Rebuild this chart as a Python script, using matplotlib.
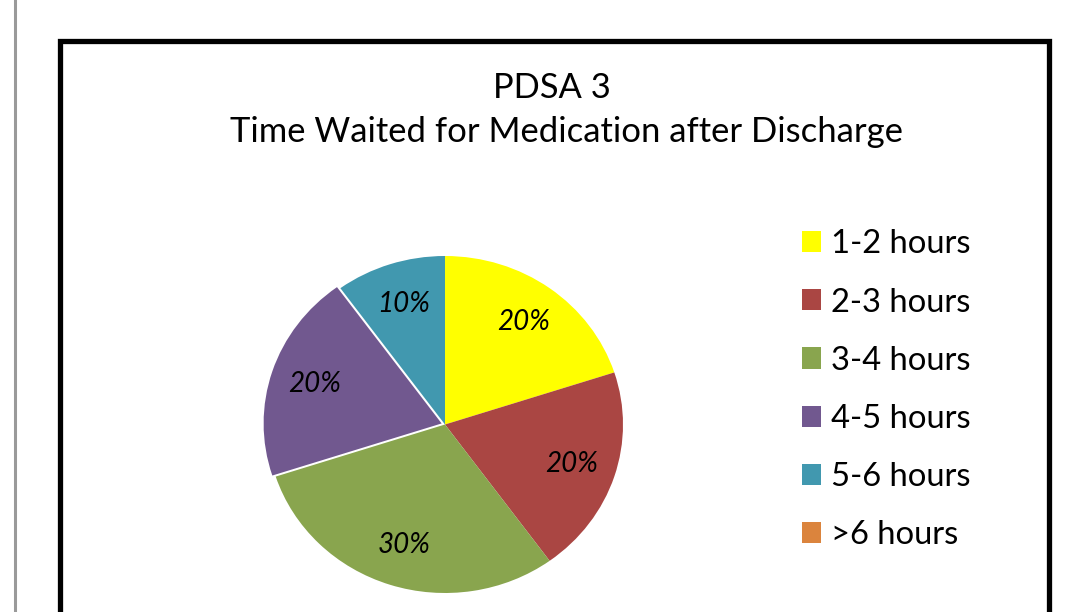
import matplotlib.pyplot as plt
from matplotlib.patches import Rectangle
from matplotlib.lines import Line2D

categories = ["1-2 hours", "2-3 hours", "3-4 hours", "4-5 hours", "5-6 hours", ">6 hours"]
shares = [20, 20, 30, 20, 10, 0]
colors = ["#FFFF00", "#AA4643", "#89A54E", "#71588F", "#4198AF", "#DB843D"]
title_lines = ["PDSA 3", "Time Waited for Medication after Discharge"]

W, H = 1082, 612
plt.rcParams["font.family"] = ["Lato", "DejaVu Sans"]

fig = plt.figure(figsize=(W / 100, H / 100), dpi=100)
fig.patch.set_facecolor("white")

# page margin line and chart border
fig.add_artist(Line2D([14.5 / W, 14.5 / W], [0, 1], color="#9a9a9a", linewidth=2.2,
                      transform=fig.transFigure))
fig.add_artist(Rectangle((59.5 / W, -0.1), (1048.5 - 59.5) / W, 1.1 - 40.5 / H,
                         fill=False, edgecolor="black", linewidth=3.8,
                         transform=fig.transFigure))

fig.text(552 / W, 1 - 88 / H, title_lines[0], ha="center", va="center", fontsize=24.8)
fig.text(567 / W, 1 - 132 / H, title_lines[1], ha="center", va="center", fontsize=24.9)

cx, cy, rx, ry = 445, 424.5, 178, 168.5
ax = fig.add_axes([(cx - rx) / W, (H - cy - ry) / H, 2 * rx / W, 2 * ry / H])


def pct_label(p):
    return f"{p:.0f}%" if p > 0.5 else ""


explode = [0, 0, 0, 0.02, 0, 0]
wedges, texts, autotexts = ax.pie(
    shares,
    colors=colors,
    startangle=90,
    counterclock=False,
    explode=explode,
    autopct=pct_label,
    pctdistance=0.75,
    wedgeprops=dict(linewidth=0),
    textprops=dict(fontsize=20, style="italic", color="black"),
)
for w in wedges:
    w.set_clip_on(False)
ax.set_xlim(-1.0, 1.0)
ax.set_ylim(-1.0, 1.0)
ax.set_aspect("auto")
ax.axis("off")

handles = [Rectangle((0, 0), 1, 1, facecolor=c, edgecolor="none") for c in colors]
fig.legend(
    handles,
    categories,
    loc="upper left",
    bbox_to_anchor=(772 / W, 1 - 200 / H),
    frameon=False,
    fontsize=23.6,
    handlelength=0.61,
    handleheight=0.61,
    handletextpad=0.3,
    labelspacing=0.855,
)

fig.savefig("out.png", dpi=100)
